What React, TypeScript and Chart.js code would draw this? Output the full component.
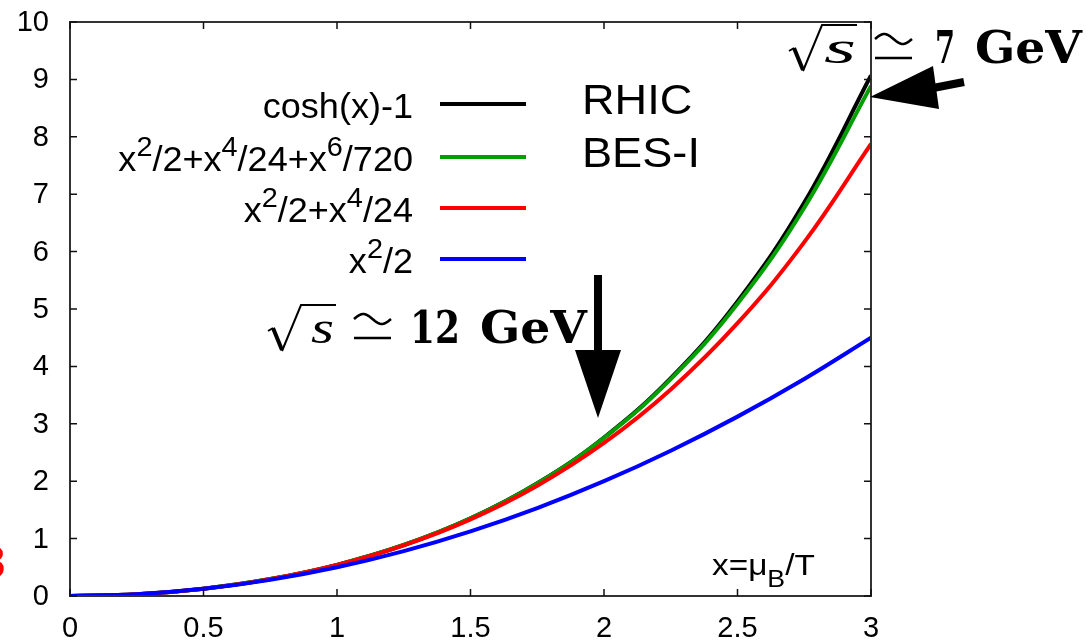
import React, { useEffect, useRef } from "react";
import { Chart, registerables } from "chart.js";

Chart.register(...registerables);

// x = mu_B / T
const X_VALUES = [0, 0.25, 0.5, 0.75, 1, 1.25, 1.5, 1.75, 2, 2.25, 2.5, 2.75, 3];
const COSH_M1 = [0, 0.0314, 0.1276, 0.2947, 0.5431, 0.8884, 1.3524, 1.9642, 2.7622, 3.7966, 5.1323, 6.8533, 9.0677];
const TAYLOR6 = [0, 0.0314, 0.1276, 0.2947, 0.5431, 0.8883, 1.3518, 1.9619, 2.7556, 3.7793, 5.0917, 6.765, 8.8875];
const TAYLOR4 = [0, 0.0314, 0.1276, 0.2944, 0.5417, 0.883, 1.3359, 1.922, 2.6667, 3.5991, 4.7526, 6.1643, 7.875];
const TAYLOR2 = [0, 0.0313, 0.125, 0.2813, 0.5, 0.7813, 1.125, 1.5313, 2, 2.5313, 3.125, 3.7813, 4.5];

const X_TICKS = [0, 0.5, 1, 1.5, 2, 2.5, 3];
const Y_TICKS = [0, 1, 2, 3, 4, 5, 6, 7, 8, 9, 10];
const X_TICK_LABELS = ["0", "0.5", "1", "1.5", "2", "2.5", "3"];
const Y_TICK_LABELS = ["0", "1", "2", "3", "4", "5", "6", "7", "8", "9", "10"];

const SERIES_LABELS: [string, string][][] = [
  [["cosh(x)-1", "n"]],
  [["x", "n"], ["2", "sup"], ["/2+x", "n"], ["4", "sup"], ["/24+x", "n"], ["6", "sup"], ["/720", "n"]],
  [["x", "n"], ["2", "sup"], ["/2+x", "n"], ["4", "sup"], ["/24", "n"]],
  [["x", "n"], ["2", "sup"], ["/2", "n"]],
];
const SERIES_COLORS = ["#000000", "#00a000", "#ff0000", "#0000ff"];
const SERIES_VALUES = [COSH_M1, TAYLOR6, TAYLOR4, TAYLOR2];

const SANS = '"Liberation Sans", Arial, sans-serif';
const SERIF = '"DejaVu Serif", serif';

function drawRich(
  ctx: CanvasRenderingContext2D,
  parts: [string, string][],
  x: number,
  baseline: number,
  size: number,
  align: "left" | "right",
  hscale = 1
) {
  const widths: number[] = [];
  let total = 0;
  for (const [t, mode] of parts) {
    const s = mode === "n" ? size : size * 0.8;
    ctx.font = `${s}px ${SANS}`;
    const w = ctx.measureText(t).width;
    widths.push(w);
    total += w;
  }
  const start = align === "right" ? x - total * hscale : x;
  ctx.save();
  ctx.translate(start, baseline);
  ctx.scale(hscale, 1);
  ctx.textAlign = "left";
  ctx.textBaseline = "alphabetic";
  let cx = 0;
  parts.forEach(([t, mode], i) => {
    const s = mode === "n" ? size : size * 0.8;
    const dy = mode === "sup" ? -size * 0.42 : mode === "sub" ? size * 0.4 : 0;
    ctx.font = `${s}px ${SANS}`;
    ctx.fillText(t, cx, dy);
    cx += widths[i];
  });
  ctx.restore();
}

function drawFit(ctx: CanvasRenderingContext2D, text: string, x: number, baseline: number, font: string, width: number) {
  ctx.save();
  ctx.font = font;
  ctx.textAlign = "left";
  ctx.textBaseline = "alphabetic";
  const w = ctx.measureText(text).width;
  ctx.translate(x, baseline);
  ctx.scale(width / w, 1);
  ctx.fillText(text, 0, 0);
  ctx.restore();
}

function drawSqrtAnnot(
  ctx: CanvasRenderingContext2D,
  L: number,
  B: number,
  sX: number,
  sW: number,
  num: string,
  numX: number,
  numW: number,
  gevX: number
) {
  ctx.save();
  ctx.strokeStyle = "#000";
  ctx.fillStyle = "#000";
  ctx.lineJoin = "miter";
  // radical
  ctx.lineWidth = 2;
  ctx.beginPath();
  ctx.moveTo(L, B - 12);
  ctx.lineTo(L + 5, B - 15);
  ctx.stroke();
  ctx.lineWidth = 4;
  ctx.beginPath();
  ctx.moveTo(L + 5, B - 15);
  ctx.lineTo(L + 14, B + 7);
  ctx.stroke();
  ctx.lineWidth = 2;
  ctx.beginPath();
  ctx.moveTo(L + 14, B + 8);
  ctx.lineTo(L + 33, B - 38);
  ctx.lineTo(L + 68, B - 38);
  ctx.stroke();
  // italic s
  drawFit(ctx, "s", sX, B, `italic 46px "Liberation Serif", serif`, sW);
  // ≃ symbol
  const ex0 = L + 86;
  const ex1 = L + 123;
  ctx.lineWidth = 2.6;
  ctx.beginPath();
  const yc = B - 24;
  for (let i = 0; i <= 30; i++) {
    const t = i / 30;
    const xx = ex0 + (ex1 - ex0) * t;
    const yy = yc - 5 * Math.sin(t * Math.PI * 2);
    if (i === 0) ctx.moveTo(xx, yy);
    else ctx.lineTo(xx, yy);
  }
  ctx.stroke();
  ctx.beginPath();
  ctx.moveTo(ex0, B - 5);
  ctx.lineTo(ex1, B - 5);
  ctx.stroke();
  // number + GeV
  const bf = `bold 44px ${SERIF}`;
  drawFit(ctx, num, numX, B, bf, numW);
  drawFit(ctx, "GeV", gevX, B, bf, 107);
  ctx.restore();
}

const overlayPlugin = {
  id: "overlay",
  afterDraw(chart: any) {
    const ctx: CanvasRenderingContext2D = chart.ctx;
    const { left, top, right, bottom } = chart.chartArea;
    const xs = chart.scales.x;
    const ys = chart.scales.y;
    ctx.save();
    // border
    ctx.strokeStyle = "#333";
    ctx.lineWidth = 2;
    ctx.strokeRect(left, top, right - left, bottom - top);
    // ticks (inward, mirrored)
    ctx.strokeStyle = "#111";
    ctx.lineWidth = 1.5;
    ctx.beginPath();
    for (const v of X_TICKS) {
      const px = xs.getPixelForValue(v);
      ctx.moveTo(px, bottom);
      ctx.lineTo(px, bottom - 7);
      ctx.moveTo(px, top);
      ctx.lineTo(px, top + 7);
    }
    for (const v of Y_TICKS) {
      const py = ys.getPixelForValue(v);
      ctx.moveTo(left, py);
      ctx.lineTo(left + 7, py);
      ctx.moveTo(right, py);
      ctx.lineTo(right - 7, py);
    }
    ctx.stroke();

    // tick labels
    ctx.fillStyle = "#000";
    ctx.font = `29px ${SANS}`;
    ctx.textBaseline = "middle";
    ctx.textAlign = "center";
    X_TICKS.forEach((v, i) => {
      ctx.fillText(X_TICK_LABELS[i], xs.getPixelForValue(v), bottom + 33);
    });
    ctx.textAlign = "right";
    Y_TICKS.forEach((v, i) => {
      ctx.fillText(Y_TICK_LABELS[i], left - 21, ys.getPixelForValue(v) + 1);
    });

    // legend
    const rowY = [104, 157, 208, 259];
    SERIES_LABELS.forEach((parts, i) => {
      ctx.fillStyle = "#000";
      drawRich(ctx, parts, 413, rowY[i] + 14, 35, "right", 1.03);
      ctx.strokeStyle = SERIES_COLORS[i];
      ctx.lineWidth = 4;
      ctx.beginPath();
      ctx.moveTo(440, rowY[i]);
      ctx.lineTo(526, rowY[i]);
      ctx.stroke();
    });

    // RHIC / BES-I
    ctx.fillStyle = "#000";
    drawRich(ctx, [["RHIC", "n"]], 582, 114, 43, "left", 1.05);
    drawRich(ctx, [["BES-I", "n"]], 582, 167, 43, "left", 1.05);

    // x = mu_B / T
    drawRich(ctx, [["x=μ", "n"], ["B", "sub"], ["/T", "n"]], 712, 575, 29, "left", 1.15);

    // annotations
    drawSqrtAnnot(ctx, 789, 63, 824, 32, "7", 935, 20, 975);
    drawSqrtAnnot(ctx, 268, 343, 311, 23, "12", 410, 50, 480);

    // down arrow
    ctx.fillStyle = "#000";
    ctx.fillRect(594, 275, 8, 78);
    ctx.beginPath();
    ctx.moveTo(575, 350);
    ctx.lineTo(621, 350);
    ctx.lineTo(598, 418);
    ctx.closePath();
    ctx.fill();

    // left arrow
    ctx.beginPath();
    ctx.moveTo(870, 97);
    ctx.lineTo(933, 66);
    ctx.lineTo(939, 109);
    ctx.closePath();
    ctx.fill();
    ctx.strokeStyle = "#000";
    ctx.lineWidth = 8;
    ctx.beginPath();
    ctx.moveTo(928, 89);
    ctx.lineTo(964, 82);
    ctx.stroke();

    // clipped red glyph at left edge
    ctx.fillStyle = "#ff0000";
    ctx.font = `bold 46px ${SANS}`;
    ctx.textAlign = "right";
    ctx.textBaseline = "alphabetic";
    ctx.fillText("8", 5, 578);
    ctx.restore();
  },
};

export default function App() {
  const canvasRef = useRef<HTMLCanvasElement | null>(null);

  useEffect(() => {
    if (!canvasRef.current) return;
    const datasets = SERIES_VALUES.map((vals, i) => ({
      label: `s${i}`,
      data: X_VALUES.map((x, j) => ({ x, y: vals[j] })),
      borderColor: SERIES_COLORS[i],
      backgroundColor: SERIES_COLORS[i],
      borderWidth: 4,
      pointRadius: 0,
      fill: false,
      tension: 0.4,
      order: 3 - i,
    }));
    const chart = new Chart(canvasRef.current, {
      type: "line",
      data: { datasets },
      options: {
        responsive: false,
        animation: false,
        layout: { padding: { left: 0, top: 22, right: 217, bottom: 0 } },
        plugins: { legend: { display: false }, tooltip: { enabled: false } },
        scales: {
          x: {
            type: "linear",
            min: 0,
            max: 3,
            ticks: { display: false, stepSize: 0.5 },
            grid: { display: false, drawTicks: false },
            border: { display: false },
            afterFit: (s: any) => {
              s.height = 44;
            },
          },
          y: {
            type: "linear",
            min: 0,
            max: 10,
            ticks: { display: false, stepSize: 1 },
            grid: { display: false, drawTicks: false },
            border: { display: false },
            afterFit: (s: any) => {
              s.width = 70;
            },
          },
        },
      },
      plugins: [overlayPlugin],
    });
    return () => chart.destroy();
  }, []);

  return (
    <div style={{ position: "absolute", left: 0, top: 0, width: 1088, height: 640, background: "#fff" }}>
      <canvas ref={canvasRef} width={1088} height={640} />
    </div>
  );
}
